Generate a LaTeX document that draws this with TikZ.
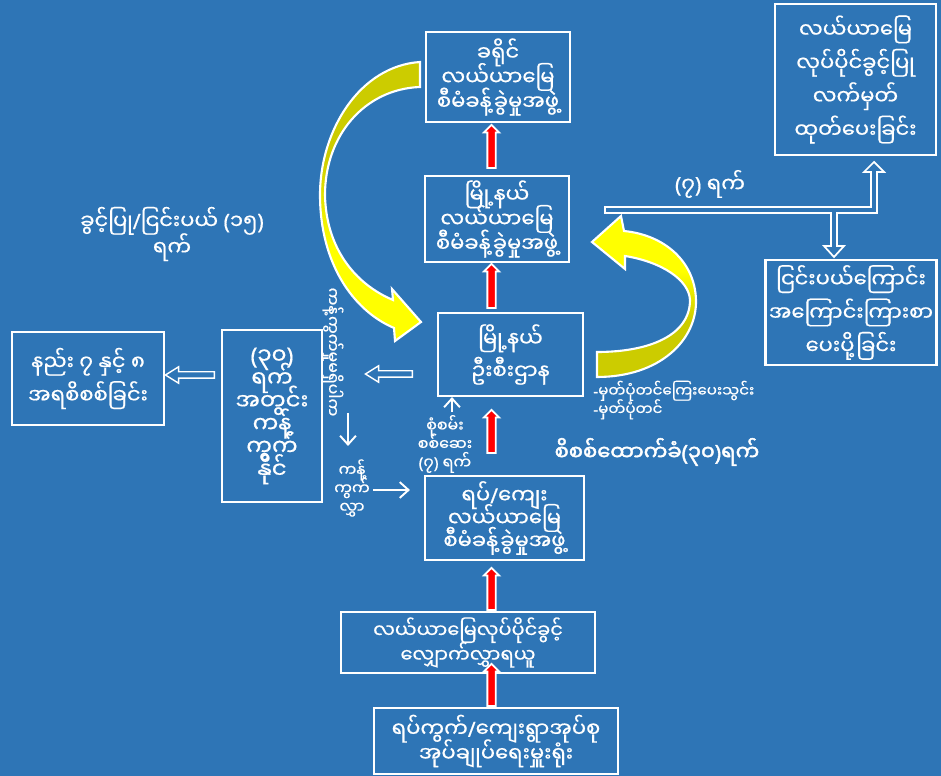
\documentclass[tikz,border=0pt]{standalone}
\usepackage{fontspec}
\newfontfamily\mm[Script=Myanmar,FakeBold=0.6]{Noto Sans Myanmar UI}
\newfontfamily\mmb[Script=Myanmar,FakeBold=2]{Noto Sans Myanmar UI}
\newfontfamily\lat[FakeBold=0.6]{Noto Sans}
\newfontfamily\latb[FakeBold=2]{Noto Sans}
\newcommand\LP{{\lat(}}
\newcommand\RP{{\lat)}}
\newcommand\SL{{\lat/}}
\newcommand\HY{{\lat-}}
\newcommand\LPb{{\latb(}}
\newcommand\RPb{{\latb)}}
\usetikzlibrary{shapes.arrows,arrows.meta,calc}
\definecolor{bg}{HTML}{2E75B6}
\definecolor{olv}{HTML}{CCCC00}
\definecolor{ylw}{HTML}{FFFF00}
\pgfdeclareverticalshading{olvtop}{100bp}{color(0bp)=(ylw); color(42bp)=(ylw); color(58bp)=(olv); color(100bp)=(olv)}
\pgfdeclareverticalshading{olvbot}{100bp}{color(0bp)=(olv); color(42bp)=(olv); color(58bp)=(ylw); color(100bp)=(ylw)}
\newcommand\mmf[2]{\mm\fontsize{#1}{#2}\selectfont\lineskiplimit=-30pt\relax}
\tikzset{
  box/.style={draw=white, line width=1.2pt, text=white, align=center, inner sep=0pt},
  lbl/.style={text=white, align=center, inner sep=0pt},
  redarr/.style={single arrow, fill=red, draw=white, line width=1pt, rotate=90,
    inner xsep=0pt, inner ysep=0.065cm, single arrow head extend=0.07cm,
    single arrow tip angle=90},
  hollowarr/.style={single arrow, draw=white, line width=0.8pt, shape border rotate=180,
    inner xsep=0pt, inner ysep=0.05cm, single arrow head extend=0.1cm,
    single arrow tip angle=64},
  thinarr/.style={draw=white, line width=1.1pt, -{Straight Barb[length=5pt,width=9pt]}},
  curvearr/.style={draw=white, line width=1.2pt}
}
\begin{document}
\begin{tikzpicture}[x=0.02cm,y=-0.02cm]
\fill[bg] (0,0) rectangle (941,776);
\useasboundingbox (0,0) rectangle (941,776);

% boxes
\node[box,font=\mmf{12}{14},minimum width=2.88cm,minimum height=1.8cm] (A) at (498,77) {ခရိုင်\\လယ်ယာမြေ\\စီမံခန့်ခွဲမှုအဖွဲ့};
\node[box,font=\mmf{12}{14},minimum width=2.88cm,minimum height=1.72cm] (B) at (497,219) {မြို့နယ်\\လယ်ယာမြေ\\စီမံခန့်ခွဲမှုအဖွဲ့};
\node[box,font=\mmf{12}{18.5},minimum width=2.9cm,minimum height=1.66cm] (C) at (510.5,354.5) {မြို့နယ်\\ဦးစီးဌာန};
\node[box,font=\mmf{12}{13},minimum width=3.18cm,minimum height=1.68cm] (D) at (504.5,518) {ရပ်\SL ကျေး\\လယ်ယာမြေ\\စီမံခန့်ခွဲမှုအဖွဲ့};
\node[box,font=\mmf{11}{14},minimum width=5.08cm,minimum height=1.22cm] (E) at (468,642.5) {လယ်ယာမြေလုပ်ပိုင်ခွင့်\\လျှောက်လွှာရယူ};
\node[box,font=\mmf{12}{14},minimum width=4.88cm,minimum height=1.32cm] (F) at (496,741) {ရပ်ကွက်\SL ကျေးရွာအုပ်စု\\အုပ်ချုပ်ရေးမှူးရုံး};
\node[box,font=\mmf{12}{19},minimum width=3.22cm,minimum height=3.02cm] (G) at (855.5,79.5) {လယ်ယာမြေ\\လုပ်ပိုင်ခွင့်ပြု\\လက်မှတ်\\ထုတ်ပေးခြင်း};
\node[box,font=\mmf{12}{19},minimum width=3.42cm,minimum height=2.1cm] (H) at (851,312.5) {ငြင်းပယ်ကြောင်း\\အကြောင်းကြားစာ\\ပေးပို့ခြင်း};
\node[box,font=\mmf{12}{19},minimum width=3.04cm,minimum height=1.86cm] (I) at (88,378.5) {နည်း ၇ နှင့် ၈\\အရစိစစ်ခြင်း};
\node[box,font=\mmf{13}{13},minimum width=2cm,minimum height=3.44cm] (J) at (272,416) {\LP၃၀\RP\\ရက်\\အတွင်း\\ကန့်\\ကွက်\\နိုင်};

% red block arrows
\node[redarr,minimum height=0.86cm] (r1) at (491.5,148.5) {};
\node[redarr,minimum height=0.88cm] (r2) at (491.5,288) {};
\node[redarr,minimum height=0.86cm] (r3) at (491.5,433.5) {};
\node[redarr,minimum height=0.84cm] (r4) at (491.5,591) {};
\node[redarr,minimum height=0.84cm] (r5) at (491.5,687) {};

% hollow white arrows
\node[hollowarr,minimum height=0.98cm] (h1) at (192.5,375) {};
\node[hollowarr,minimum height=0.94cm] (h2) at (391.5,374) {};

% double hollow connector to G and H
\path[draw=white,line width=1pt,fill=bg]
  (605,207) -- (871,207) -- (871,172) -- (864,172) -- (874,162) -- (884,172) -- (877,172)
  -- (877,213) -- (837,213) -- (837,246) -- (844,246) -- (834,257) -- (824,246) -- (831,246)
  -- (831,213) -- (605,213) -- cycle;

% curved arrows
\path[curvearr,shading=olvtop]
  (420,62) .. controls (360,66) and (320,130) .. (320,195)
  .. controls (320,262) and (352,310) .. (394,328)
  -- (395,341) -- (421,322) -- (392,289) -- (393,300)
  .. controls (355,284) and (326,248) .. (325,195)
  .. controls (325,135) and (365,89) .. (420,87) -- cycle;
\path[curvearr,shading=olvbot]
  (597,377) .. controls (660,377) and (697,340) .. (696,300)
  .. controls (695,262) and (665,235) .. (624,231)
  -- (621,216) -- (592,242) -- (625,269) -- (625,256)
  .. controls (662,262) and (689,280) .. (690,300)
  .. controls (690,335) and (650,352) .. (597,352) -- cycle;

% labels
\node[lbl,font=\mmf{12}{15}] (L1) at (172,234) {ခွင့်ပြု\SL ငြင်းပယ် \LP၁၅\RP\\ရက်};
\node[lbl,font=\mmf{12}{14}] (L2) at (710,184) {\LP၇\RP\ ရက်};
\node[lbl,font=\mmf{8.6}{10.5},align=left,anchor=west] (L3) at (593,400) {\HY မှတ်ပုံတင်ကြေးပေးသွင်း\\\HY မှတ်ပုံတင်};
\node[lbl,font={\mmb\fontsize{12}{14}\selectfont}] (L4) at (657,452) {စိစစ်ထောက်ခံ\LPb၃၀\RPb ရက်};
\node[lbl,font=\mmf{9}{10.5}] (L5) at (445,444) {စုံစမ်း\\စစ်ဆေး\\\LP၇\RP\ ရက်};
\node[lbl,font=\mmf{9}{10.5}] (L6) at (352,488) {ကန့်\\ကွက်\\လွှာ};
\node[lbl,font=\mmf{9}{10},rotate=-90] (L7) at (333,352) {ကန့်ကွက်မှုမရှိပါက};

% thin arrows
\coordinate (d1) at (348,413);
\coordinate (d2) at (348,446);
\draw[thinarr] (d1) -- (d2);
\coordinate (e1) at (373,490);
\draw[thinarr,shorten >=0.28cm] (e1) -- (e1 -| D.west);
\coordinate (u1) at (452,412);
\draw[thinarr] (u1) -- (u1 |- C.south);
\end{tikzpicture}
\end{document}
